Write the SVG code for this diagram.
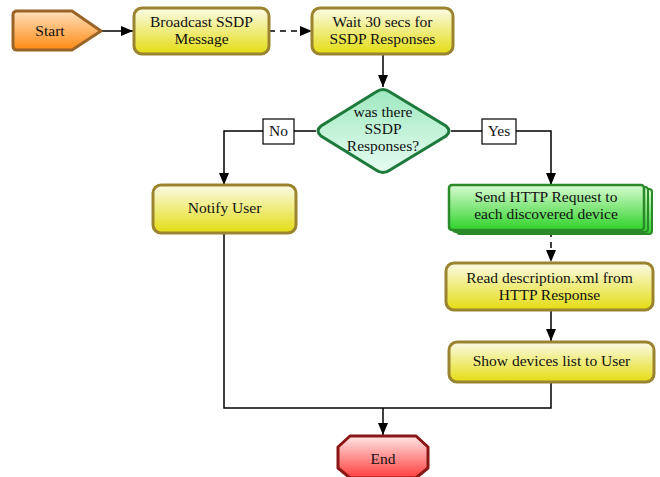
<svg xmlns="http://www.w3.org/2000/svg" width="660" height="477" viewBox="0 0 660 477">
  <defs>
    <linearGradient id="gOrange" x1="0" y1="0" x2="0" y2="1">
      <stop offset="0" stop-color="#ffe0bd"/>
      <stop offset="1" stop-color="#ff8a12"/>
    </linearGradient>
    <linearGradient id="gYellow" x1="0" y1="0" x2="0" y2="1">
      <stop offset="0" stop-color="#fbfbe6"/>
      <stop offset="1" stop-color="#e4dc12"/>
    </linearGradient>
    <linearGradient id="gMint" x1="0" y1="0" x2="0" y2="1">
      <stop offset="0" stop-color="#9fe8c0"/>
      <stop offset="1" stop-color="#e6fcf0"/>
    </linearGradient>
    <linearGradient id="gGreen" x1="0" y1="0" x2="0" y2="1">
      <stop offset="0" stop-color="#d8fbd2"/>
      <stop offset="1" stop-color="#2fd22a"/>
    </linearGradient>
    <linearGradient id="gRed" x1="0" y1="0" x2="0" y2="1">
      <stop offset="0" stop-color="#ffe6e6"/>
      <stop offset="1" stop-color="#ff3d3d"/>
    </linearGradient>
    <marker id="arrow" markerWidth="12" markerHeight="10" refX="12" refY="5" orient="auto" markerUnits="userSpaceOnUse">
      <path d="M0,0 L12,5 L0,10 Z" fill="#000"/>
    </marker>
    <style>
      text { font-family: "Liberation Serif", "Times New Roman", serif; font-size: 15.5px; fill: #111; text-anchor: middle; }
      .proc { fill: url(#gYellow); stroke: #9a8430; stroke-width: 3; }
      .conn { fill: none; stroke: #000; stroke-width: 1.5; }
      .dash { stroke-dasharray: 6 5; }
      .label { fill: #fff; stroke: #000; stroke-width: 1.2; }
    </style>
  </defs>

  <!-- connectors -->
  <g id="connectors">
    <path class="conn" d="M101,31 L133,31" marker-end="url(#arrow)"/>
    <path class="conn dash" d="M269,31 L312,31" marker-end="url(#arrow)"/>
    <path class="conn" d="M383,54 L383,87" marker-end="url(#arrow)"/>
    <path class="conn" d="M316,131 L224,131 L224,185" marker-end="url(#arrow)"/>
    <path class="conn" d="M451,131 L551,131 L551,185" marker-end="url(#arrow)"/>
    <path class="conn dash" d="M551,231 L551,262" marker-end="url(#arrow)"/>
    <path class="conn" d="M551,310 L551,341" marker-end="url(#arrow)"/>
    <path class="conn" d="M224,233 L224,408 L383,408"/>
    <path class="conn" d="M551,382 L551,408 L383,408"/>
    <path class="conn" d="M383,408 L383,435" marker-end="url(#arrow)"/>
    <rect class="label" x="263" y="119" width="31" height="25"/>
    <text x="278.5" y="136">No</text>
    <rect class="label" x="482" y="119" width="34" height="25"/>
    <text x="499" y="136">Yes</text>
  </g>

  <g id="start">
    <path d="M17,11 L72,11 L101,31 L72,50 L17,50 Q13,50 13,46 L13,15 Q13,11 17,11 Z" fill="url(#gOrange)" stroke="#9a6428" stroke-width="3" stroke-linejoin="round"/>
    <text x="50" y="36">Start</text>
  </g>

  <g id="broadcast">
    <rect class="proc" x="134" y="8" width="135" height="46" rx="8"/>
    <text x="201.5" y="27">Broadcast SSDP</text>
    <text x="201.5" y="44">Message</text>
  </g>

  <g id="wait">
    <rect class="proc" x="312" y="8" width="141" height="46" rx="8"/>
    <text x="382.5" y="27">Wait 30 secs for</text>
    <text x="382.5" y="44">SSDP Responses</text>
  </g>

  <g id="decision">
    <path d="M376,92 Q383,87 390,92 L446,126 Q452,131 446,136 L390,170 Q383,175 376,170 L321,136 Q315,131 321,126 Z" fill="url(#gMint)" stroke="#1d7a3c" stroke-width="3"/>
    <text x="383" y="117">was there</text>
    <text x="383" y="134">SSDP</text>
    <text x="383" y="151">Responses?</text>
  </g>

  <g id="notify">
    <rect class="proc" x="153" y="185" width="143" height="48" rx="8"/>
    <text x="224.5" y="213">Notify User</text>
  </g>

  <g id="send">
    <rect x="457" y="189" width="195" height="45" rx="3" fill="url(#gGreen)" stroke="#2a8a2a" stroke-width="2"/>
    <rect x="453" y="187" width="195" height="45" rx="3" fill="url(#gGreen)" stroke="#2a8a2a" stroke-width="2"/>
    <rect x="449" y="185" width="195" height="45" rx="3" fill="url(#gGreen)" stroke="#2a8a2a" stroke-width="2.5"/>
    <text x="546" y="202">Send HTTP Request to</text>
    <text x="546" y="219">each discovered device</text>
  </g>

  <g id="read">
    <rect class="proc" x="446" y="263" width="207" height="47" rx="8"/>
    <text x="549.5" y="283">Read description.xml from</text>
    <text x="549.5" y="300">HTTP Response</text>
  </g>

  <g id="show">
    <rect class="proc" x="449" y="342" width="205" height="40" rx="8"/>
    <text x="551.5" y="366">Show devices list to User</text>
  </g>

  <g id="end">
    <path d="M350,436 L416,436 L428,447 L428,468 L416,478 L350,478 L338,468 L338,447 Z" fill="url(#gRed)" stroke="#8a1616" stroke-width="3" stroke-linejoin="round"/>
    <text x="383" y="464">End</text>
  </g>
</svg>
